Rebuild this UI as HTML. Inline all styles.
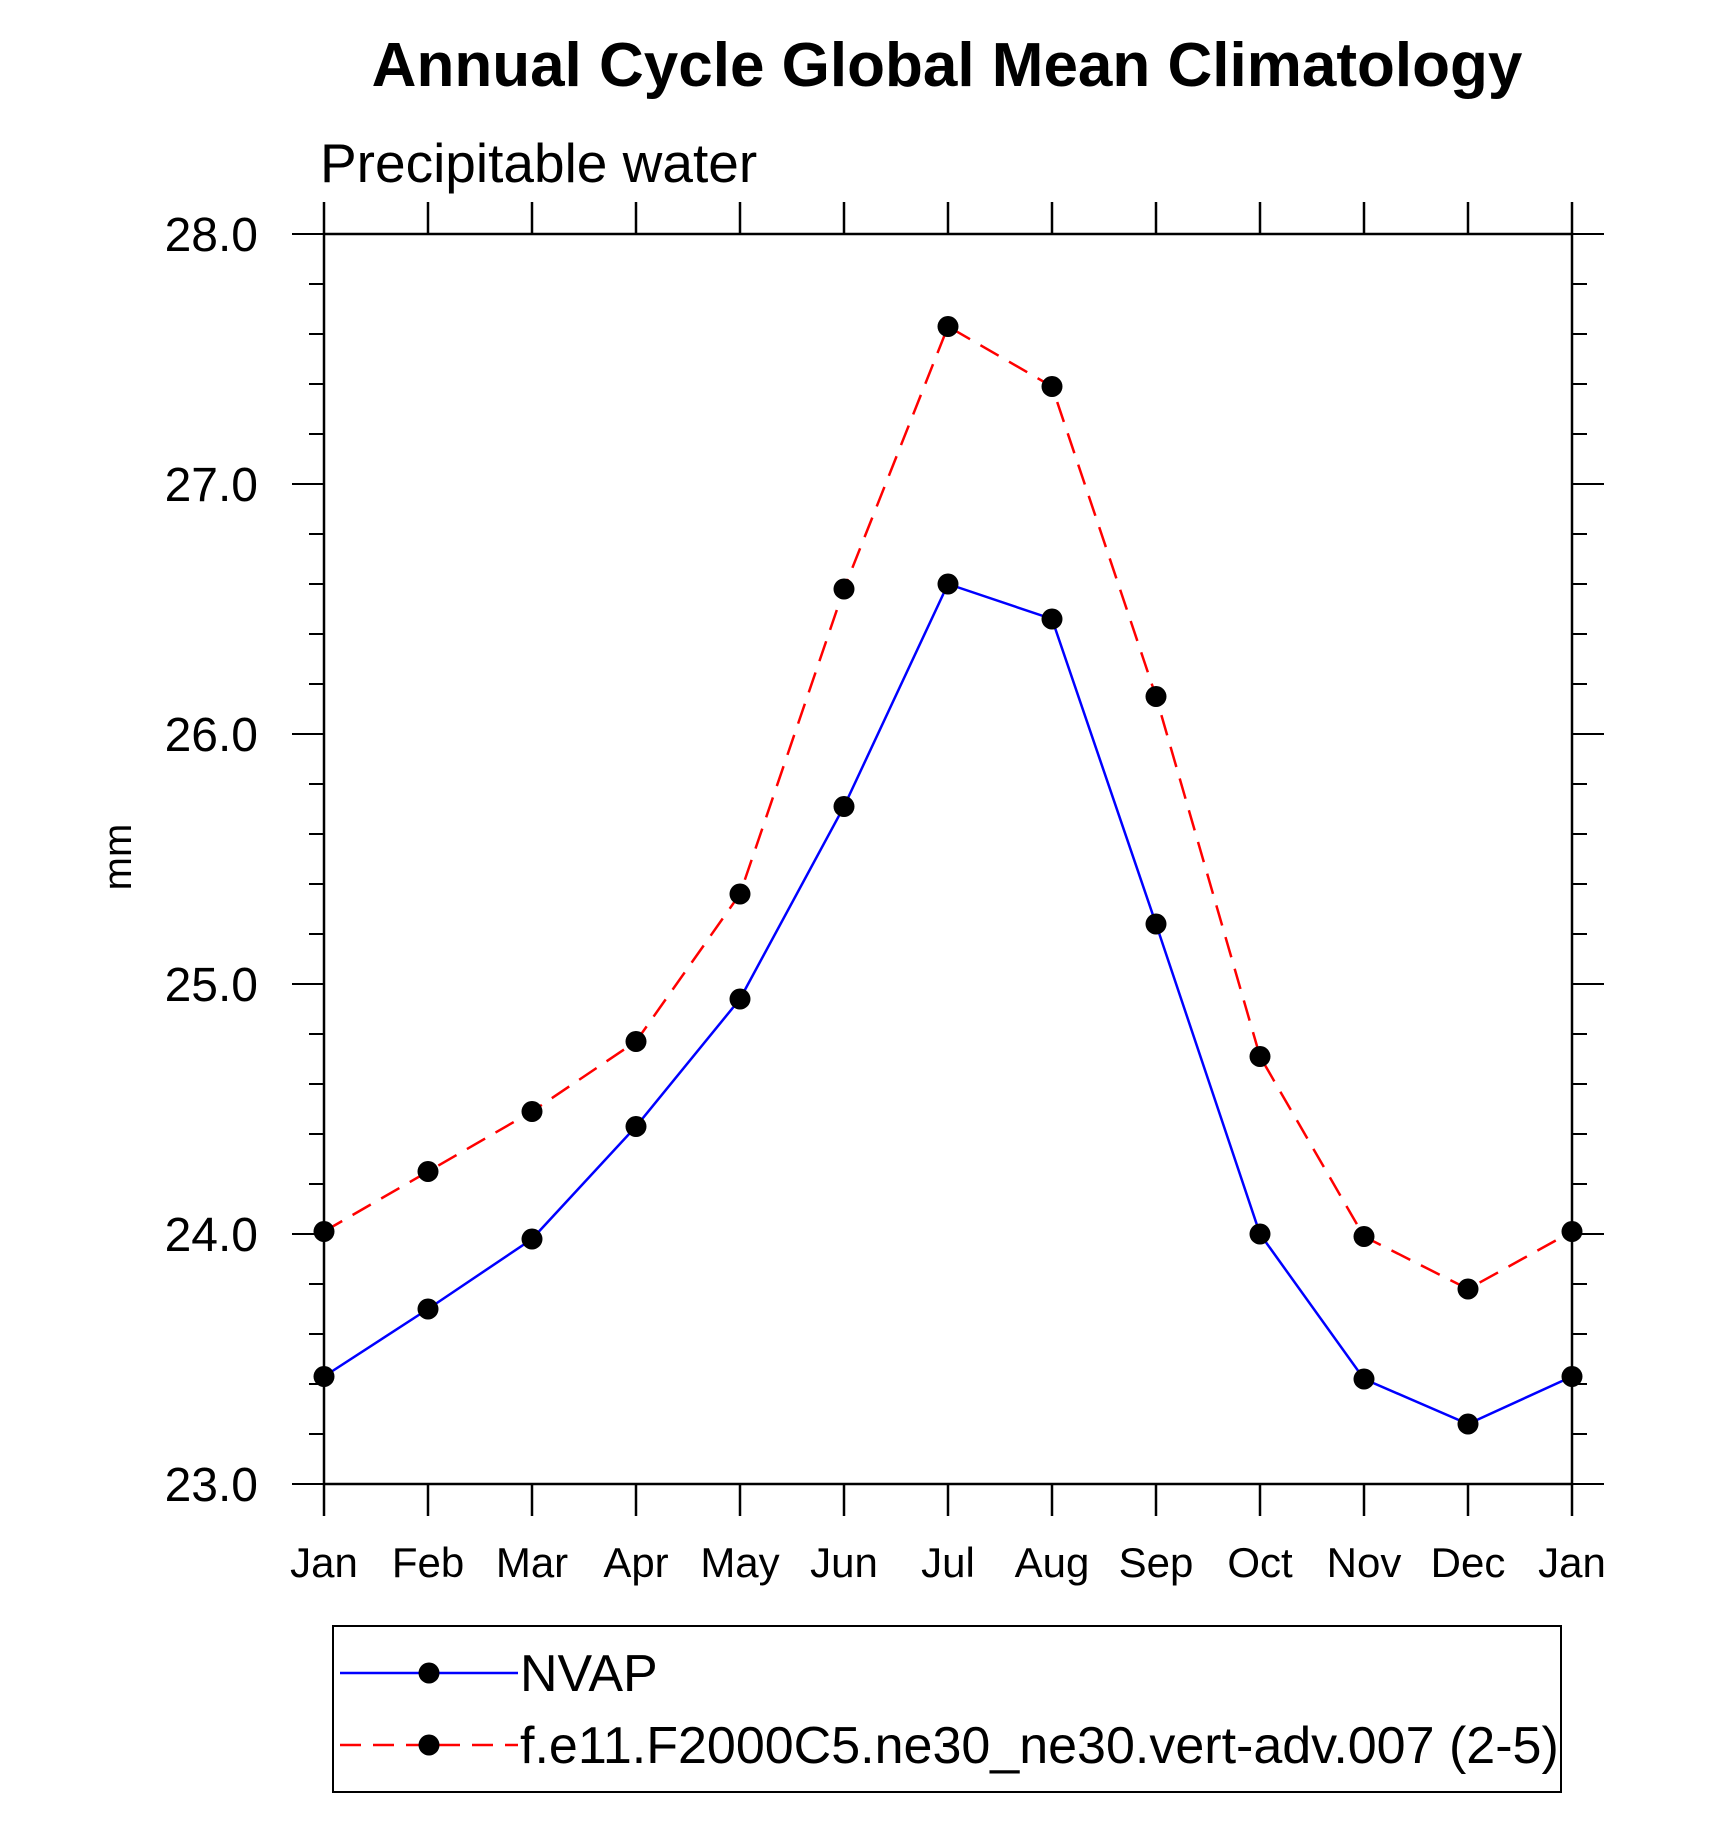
<!DOCTYPE html>
<html><head><meta charset="utf-8"><style>
html,body{margin:0;padding:0;background:#fff;}
svg{display:block;font-family:"Liberation Sans",sans-serif;}
</style></head><body>
<svg id="chart" width="1710" height="1836" viewBox="0 0 1710 1836" xmlns="http://www.w3.org/2000/svg">
<text x="947" y="86" text-anchor="middle" font-size="62" font-weight="bold">Annual Cycle Global Mean Climatology</text>
<text x="320" y="182" font-size="55">Precipitable water</text>
<text transform="translate(131,857) rotate(-90)" text-anchor="middle" font-size="40">mm</text>
<g id="axes"></g>
<g id="series"></g>
<g>
<rect x="333" y="1626" width="1228" height="166" fill="none" stroke="#000" stroke-width="2"/>
<g>
<line x1="340" y1="1673" x2="518" y2="1673" stroke="#0000ff" stroke-width="2.5"/>
<circle cx="429" cy="1673" r="10.5" fill="#000"/>
<text x="520" y="1691" font-size="52">NVAP</text></g>
<g>
<line x1="340" y1="1745" x2="518" y2="1745" stroke="#ff0000" stroke-width="2.5" stroke-dasharray="21 12"/>
<circle cx="429" cy="1745" r="10.5" fill="#000"/>
<text x="520" y="1763" font-size="52">f.e11.F2000C5.ne30_ne30.vert-adv.007 (2-5)</text></g>
</g>
</svg>
<script>
const months=["Jan","Feb","Mar","Apr","May","Jun","Jul","Aug","Sep","Oct","Nov","Dec","Jan"];
const nvap=[23.43,23.70,23.98,24.43,24.94,25.71,26.60,26.46,25.24,24.00,23.42,23.24,23.43];
const model=[24.01,24.25,24.49,24.77,25.36,26.58,27.63,27.39,26.15,24.71,23.99,23.78,24.01];
const yTicks=[23,24,25,26,27,28];
const yTickLabels=["23.0","24.0","25.0","26.0","27.0","28.0"];
const NS="http://www.w3.org/2000/svg";
const L=324,R=1572,T=234,B=1484,ymin=23,ymax=28;
const xs=i=>L+(R-L)*i/(months.length-1);
const ys=v=>B-(B-T)*(v-ymin)/(ymax-ymin);
function mk(tag,attrs,parent){const e=document.createElementNS(NS,tag);for(const k in attrs)e.setAttribute(k,attrs[k]);parent.appendChild(e);return e;}
const ax=document.getElementById('axes');
const frame=mk('rect',{x:L,y:T,width:R-L,height:B-T,fill:'none',stroke:'#000','stroke-width':2.5},ax);


months.forEach((m,i)=>{
  const x=xs(i);
  const t1=mk('line',{x1:x,x2:x,y1:B,y2:B+32,stroke:'#000','stroke-width':2.5},ax);
  
  
  const t2=mk('line',{x1:x,x2:x,y1:T,y2:T-32,stroke:'#000','stroke-width':2.5},ax);
  
  
  const tx=mk('text',{x:x,y:1577,'text-anchor':'middle','font-size':42},ax);
  tx.textContent=m;
  
  
});
for(let v=ymin;v<=ymax+1e-9;v+=0.2){
  const y=ys(v);
  const major=Math.abs(v-Math.round(v))<1e-6;
  const len=major?32:15;
  const a=mk('line',{x1:L-len,x2:L,y1:y,y2:y,stroke:'#000','stroke-width':2},ax);
  
  
  const b=mk('line',{x1:R,x2:R+len,y1:y,y2:y,stroke:'#000','stroke-width':2},ax);
  
  
}
yTicks.forEach((v,i)=>{
  const t=mk('text',{x:258,y:ys(v)+17,'text-anchor':'end','font-size':48},ax);
  t.textContent=yTickLabels[i];
  
  
});
const sg=document.getElementById('series');
function series(vals,color,dash,name){
  const g=mk('g',{},sg);
  
  
  const pts=vals.map((v,i)=>xs(i)+','+ys(v)).join(' ');
  const attrs={points:pts,fill:'none',stroke:color,'stroke-width':2.5};
  if(dash)attrs['stroke-dasharray']=dash;
  const pl=mk('polyline',attrs,g);
  
  
  vals.forEach((v,i)=>{
    const c=mk('circle',{cx:xs(i),cy:ys(v),r:10.5,fill:'#000'},g);
    
    
  });
}
series(model,'#ff0000','21 12','model-series');
series(nvap,'#0000ff',null,'nvap-series');
</script>
</body></html>
